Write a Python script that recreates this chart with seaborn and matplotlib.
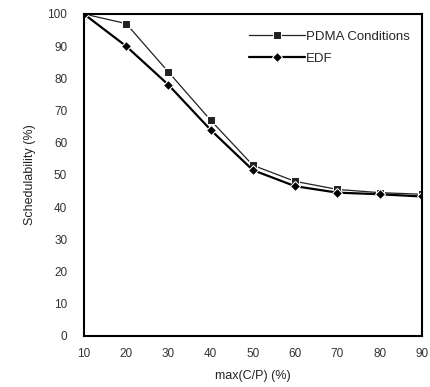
import matplotlib
matplotlib.use("Agg")
import matplotlib.pyplot as plt
import seaborn as sns
import pandas as pd

x_vals = [10, 20, 30, 40, 50, 60, 70, 80, 90]
pdma = [100, 97, 82, 67, 53, 48, 45.5, 44.5, 44]
edf = [100, 90, 78, 64, 51.5, 46.5, 44.5, 44, 43.3]
series_names = ["PDMA Conditions", "EDF"]
y_ticks = [0, 10, 20, 30, 40, 50, 60, 70, 80, 90, 100]

sns.set_style("white")
plt.rcParams['font.family'] = ['Liberation Sans', 'DejaVu Sans']

df = pd.DataFrame({
    "x": x_vals * 2,
    "y": pdma + edf,
    "series": [series_names[0]] * len(x_vals) + [series_names[1]] * len(x_vals),
})

fig = plt.figure(figsize=(4.3, 3.87), dpi=100)
ax = fig.add_axes([0.195, 0.132, 0.786, 0.832])

sns.lineplot(data=df, x="x", y="y", hue="series", style="series",
             palette={series_names[0]: "#222222", series_names[1]: "black"},
             markers={series_names[0]: "s", series_names[1]: "D"},
             dashes=False, markersize=6, ax=ax, legend=False)
lines = ax.get_lines()
lines[0].set_linewidth(0.9)
lines[0].set_markersize(6)
lines[1].set_linewidth(1.6)
lines[1].set_markersize(5)

ax.set_xlim(10, 90)
ax.set_ylim(0, 100)
ax.set_xticks(x_vals)
ax.set_yticks(y_ticks)
ax.tick_params(axis="both", length=0, labelsize=8.5, colors="#333333")
ax.tick_params(axis="x", pad=9)
ax.tick_params(axis="y", pad=12)
for s in ax.spines.values():
    s.set_linewidth(1.5)
    s.set_color("black")

ax.set_xlabel("max(C/P) (%)", fontsize=9, color="#222222", labelpad=7)
ax.set_ylabel("Schedulability (%)", fontsize=9, color="#222222", labelpad=8)

leg = ax.legend(lines, series_names, loc="upper right", frameon=False,
                fontsize=9.5, handlelength=4.2, handletextpad=0.1,
                bbox_to_anchor=(1.0, 0.985), labelspacing=0.75)

fig.savefig("out.png", dpi=100)
